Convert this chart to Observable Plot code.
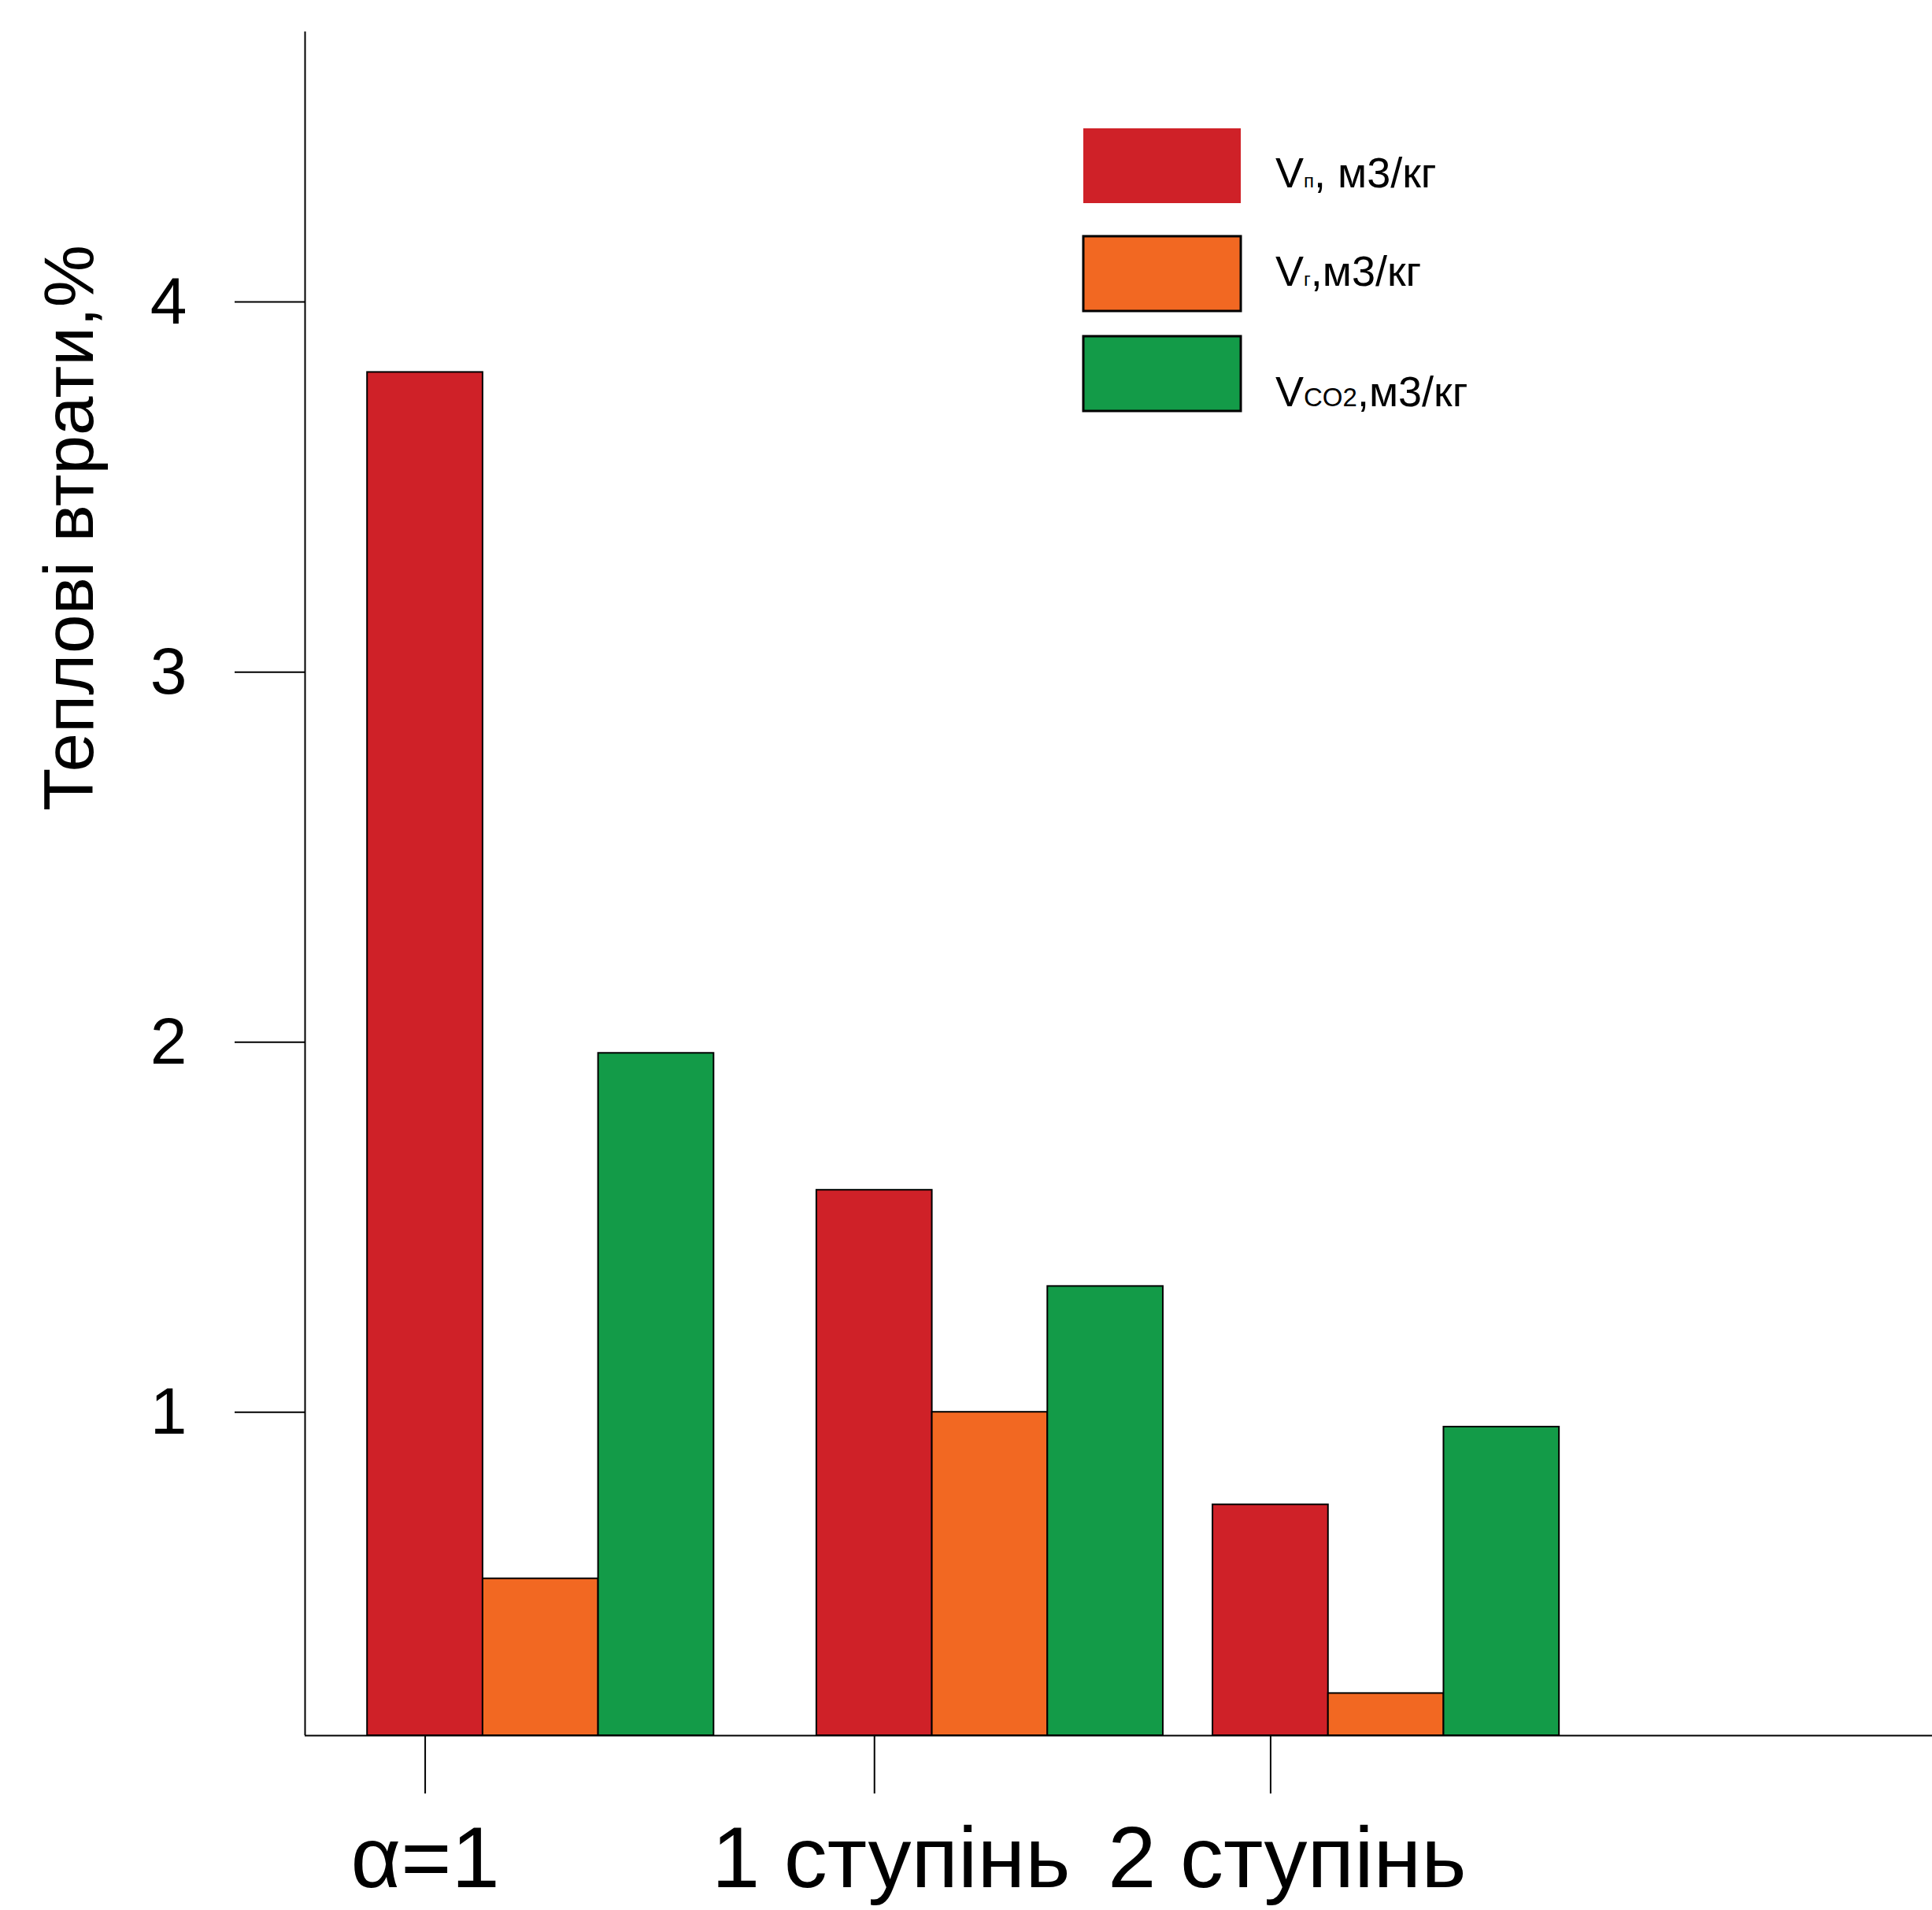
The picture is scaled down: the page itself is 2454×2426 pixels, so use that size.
<!DOCTYPE html>
<html>
<head>
<meta charset="utf-8">
<script src="https://cdn.jsdelivr.net/npm/d3@7"></script>
<script src="https://cdn.jsdelivr.net/npm/@observablehq/plot@0.6"></script>
<style>
  html, body { margin: 0; padding: 0; background: white; }
  svg { display: block; }
</style>
</head>
<body>
<div id="chart"></div>
<script>
// ---- data ----
const groups = ["α=1", "1 ступінь", "2 ступінь"];
const groupPos = [1.04, 4.93, 8.36];           // category positions (first bar centre)
const seriesNames = ["Vп, м3/кг", "Vг,м3/кг", "VCO2,м3/кг"];
const valuesVp = [3.81, 1.60, 0.75];
const valuesVg = [0.55, 1.00, 0.24];
const valuesVco2 = [1.97, 1.34, 0.96];
const yTicks = [1, 2, 3, 4];
const seriesColors = ["#cf2128", "#f26822", "#139b48"];
const yTitle = "Теплові втрати,%";

const yDomain = [0.126, 4.73];
const xDomain = [0, 14.09];

const seriesValues = [valuesVp, valuesVg, valuesVco2];
const rows = [];
groups.forEach((g, gi) => {
  seriesValues.forEach((vals, si) => {
    rows.push({group: g, series: seriesNames[si], value: vals[gi],
               x1: groupPos[gi] + si - 0.5, x2: groupPos[gi] + si + 0.5});
  });
});
const labelRows = groups.map((g, i) => ({label: g, x: groupPos[i]}));

const W = 2454, H = 2426;
const FONT = "'Liberation Sans', Arial, sans-serif";
const chart = Plot.plot({
  width: W, height: H,
  marginLeft: 387, marginRight: 0, marginTop: 40, marginBottom: 222,
  style: {fontFamily: FONT, background: "white", color: "black"},
  x: {domain: xDomain},
  y: {domain: yDomain},
  color: {domain: seriesNames, range: seriesColors},
  marks: [
    Plot.rectY(rows, {x1: "x1", x2: "x2", y1: () => yDomain[0], y2: "value", fill: "series", stroke: "black", strokeWidth: 2}),
    Plot.ruleX([xDomain[0]], {stroke: "black", strokeWidth: 2}),
    Plot.ruleY([yDomain[0]], {stroke: "black", strokeWidth: 2}),
    Plot.axisY({ticks: yTicks, tickSize: 89, tickPadding: 61, fontSize: 84, label: null, strokeWidth: 2, tickFormat: d => String(d)}),
    Plot.axisX({ticks: groupPos, tickSize: 74, label: null, strokeWidth: 2, tickFormat: () => ""}),
    Plot.text(labelRows.slice(0, 1), {x: "x", text: "label", frameAnchor: "bottom", dy: 114, lineAnchor: "top",
                                      fontSize: 110, fill: "black"}),
    Plot.text(labelRows.slice(1), {x: "x", text: "label", frameAnchor: "bottom", dy: 114, lineAnchor: "top",
                                   fontSize: 110, fill: "black", dx: 21}),
    Plot.text([yTitle], {frameAnchor: "left", text: d => d, rotate: -90, dx: -270, dy: -452,
                         fontSize: 89, textAnchor: "middle", lineAnchor: "bottom", fill: "black"})
  ]
});
document.getElementById("chart").appendChild(chart);

// ---- legend ----
const svg = d3.select(chart);
const lg = svg.append("g").attr("font-family", FONT).attr("text-anchor", "start");
const legendRows = [
  {main: "V", sub: "п", subSize: 24, rest: ", м3/кг", y: 163, tb: 238, stroke: "none"},
  {main: "V", sub: "г", subSize: 24, rest: ",м3/кг", y: 300, tb: 363, stroke: "black"},
  {main: "V", sub: "CO2", subSize: 33, rest: ",м3/кг", y: 427, tb: 516, stroke: "black"}
];
legendRows.forEach((r, i) => {
  lg.append("rect").attr("x", 1376).attr("y", r.y).attr("width", 200).attr("height", 95)
    .attr("fill", seriesColors[i]).attr("stroke", r.stroke).attr("stroke-width", 3);
  const t = lg.append("text").attr("x", 1620).attr("y", r.tb).attr("font-size", 54)
    .attr("fill", "black").attr("text-anchor", "start");
  t.append("tspan").text(r.main);
  t.append("tspan").attr("font-size", r.subSize).text(r.sub);
  t.append("tspan").text(r.rest);
});
</script>
</body>
</html>
